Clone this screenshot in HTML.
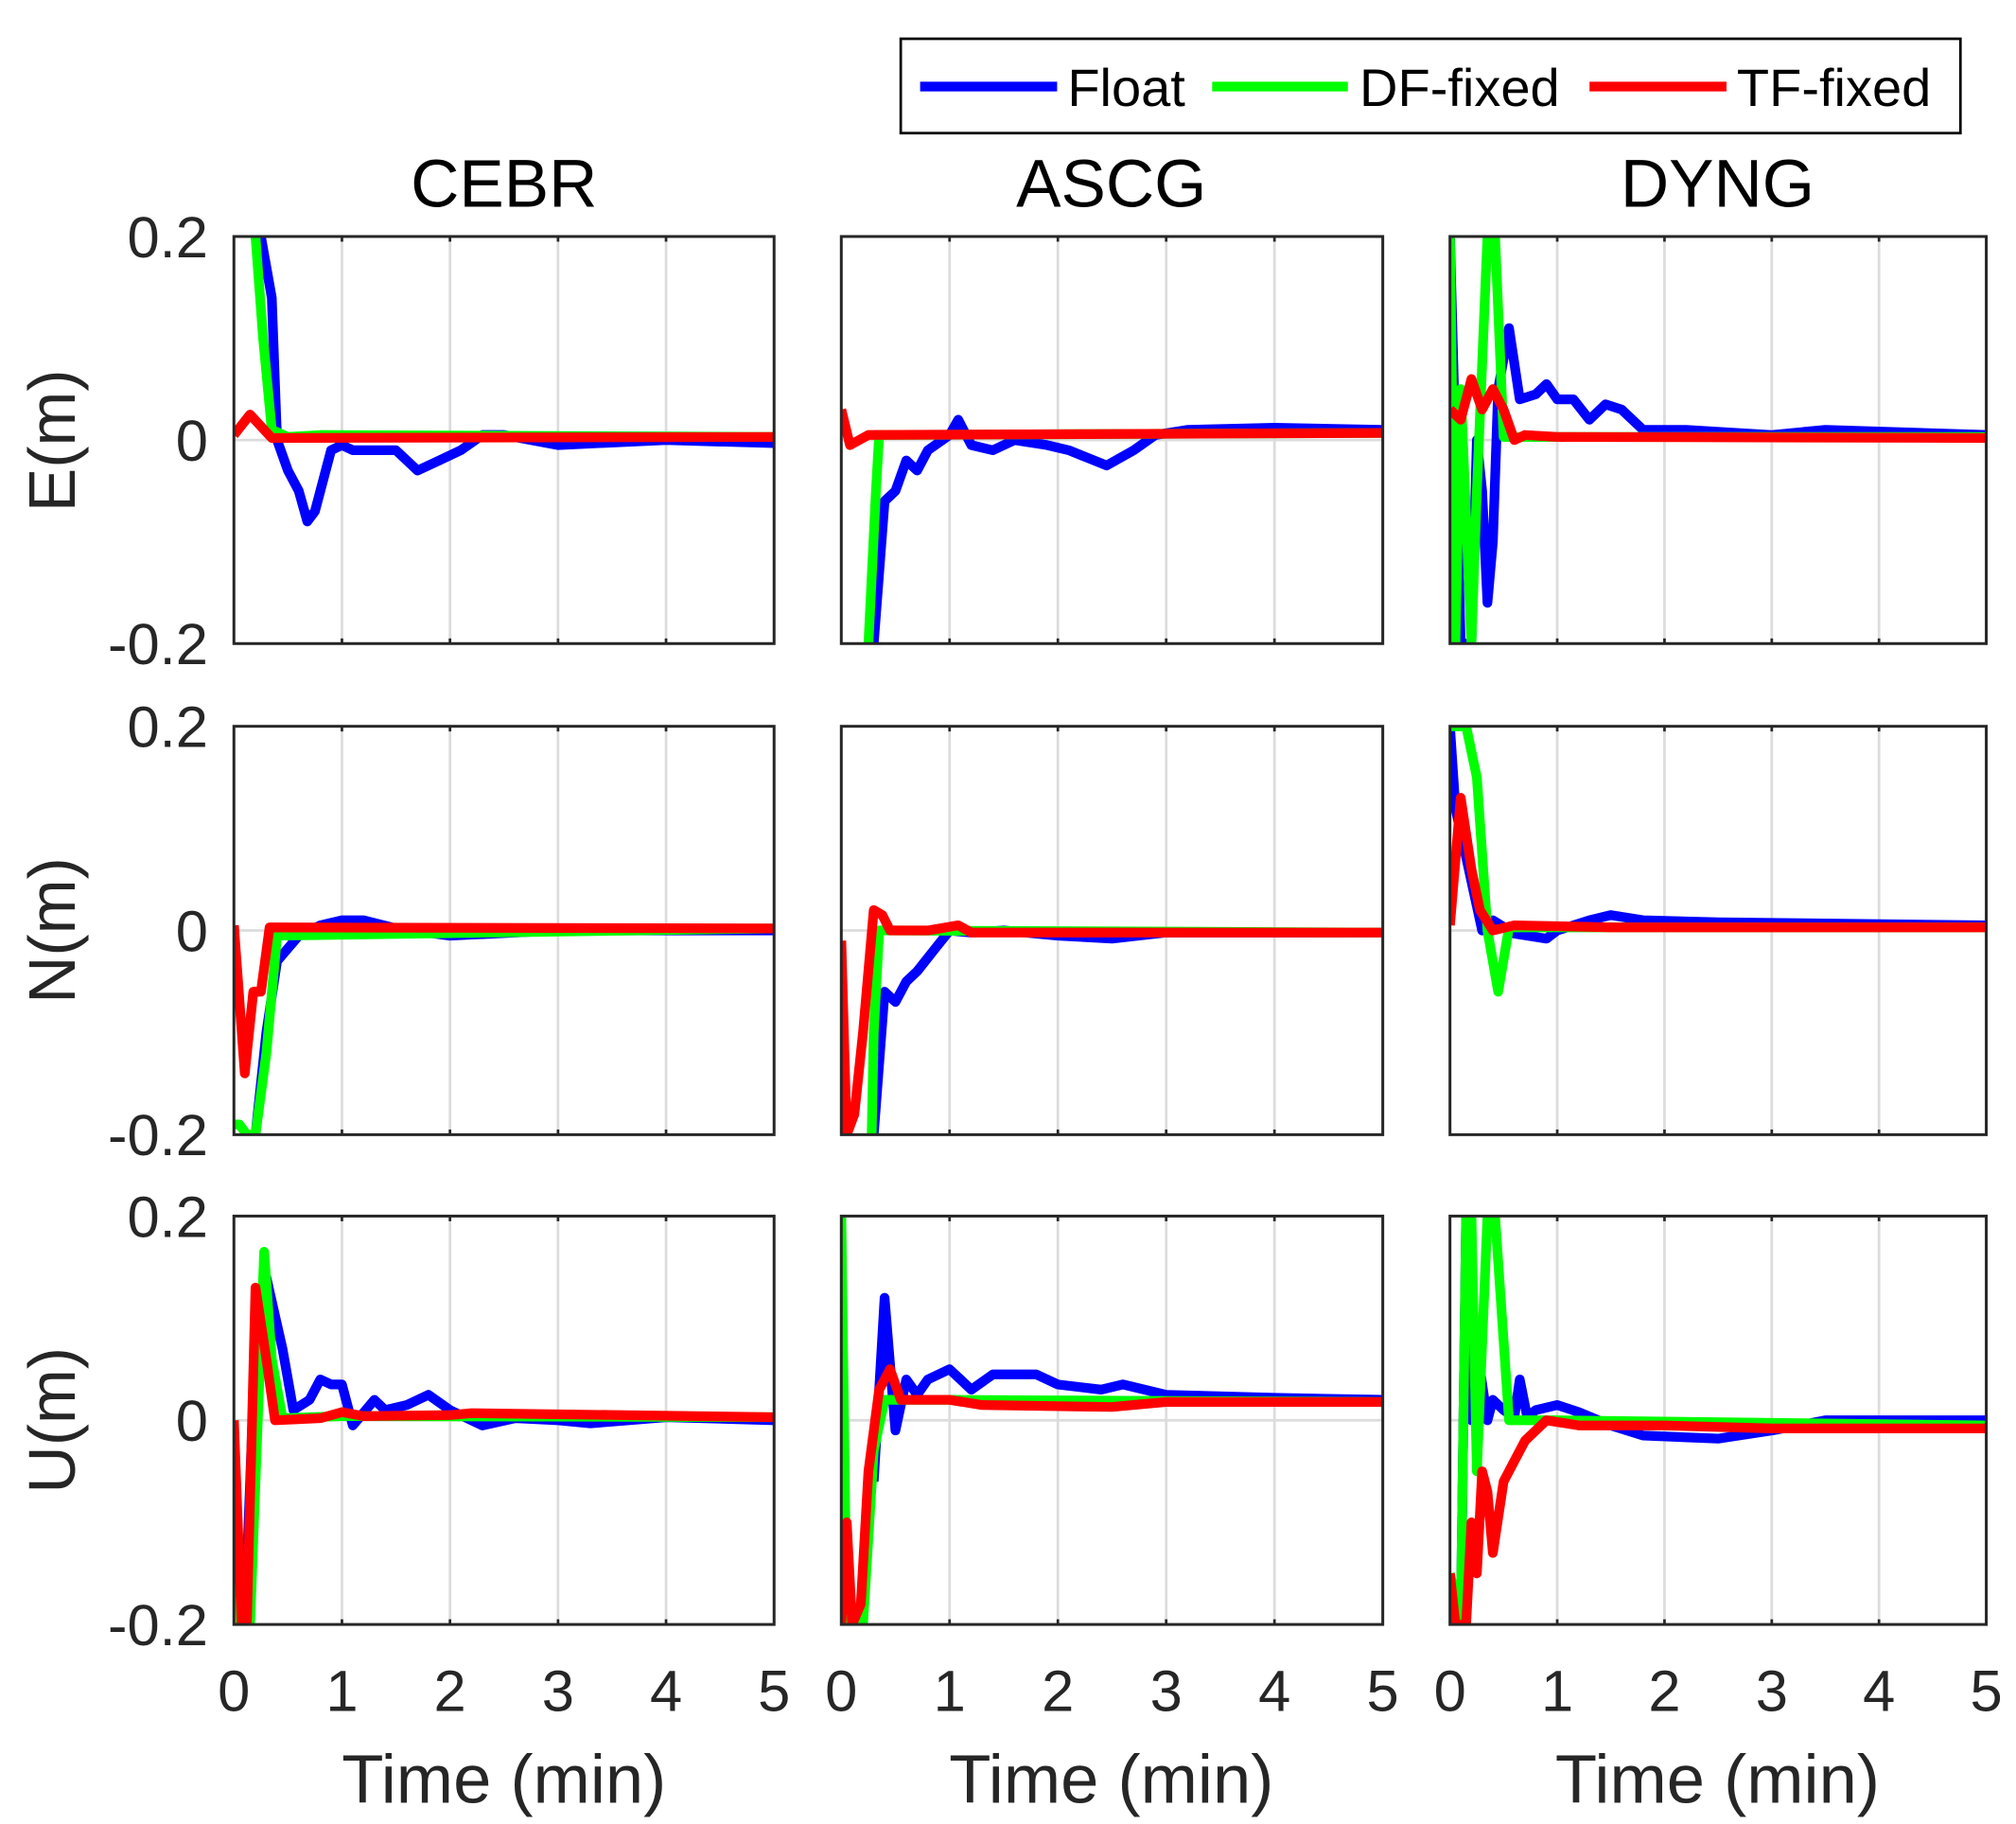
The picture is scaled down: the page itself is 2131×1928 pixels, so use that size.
<!DOCTYPE html>
<html><head><meta charset="utf-8"><style>html,body{margin:0;padding:0;background:#fff}svg{display:block}</style></head>
<body>
<svg id="s" width="2131" height="1928" viewBox="0 0 1560 1411.4" xmlns="http://www.w3.org/2000/svg" font-family="Liberation Sans, Arial, sans-serif">
<rect width="1560" height="1412" fill="#fff"/>
<g id="g"></g>
<rect x="697" y="30" width="820" height="73" fill="#fff" stroke="#000" stroke-width="2"/>
<line x1="712" y1="67" x2="818" y2="67" stroke="#0000ff" stroke-width="7.5"/>
<text x="826" y="82" font-size="41" fill="#000">Float</text>
<line x1="938" y1="67" x2="1043" y2="67" stroke="#00ff00" stroke-width="7.5"/>
<text x="1052" y="82" font-size="41" fill="#000">DF-fixed</text>
<line x1="1230" y1="67" x2="1336" y2="67" stroke="#ff0000" stroke-width="7.5"/>
<text x="1344" y="82" font-size="41" fill="#000">TF-fixed</text>
<text x="390" y="160" font-size="52" text-anchor="middle">CEBR</text>
<text x="860" y="160" font-size="52" text-anchor="middle">ASCG</text>
<text x="1329" y="160" font-size="52" text-anchor="middle">DYNG</text>
<text transform="translate(58,341) rotate(-90)" font-size="51" text-anchor="middle" fill="#262626">E(m)</text>
<text transform="translate(58,720) rotate(-90)" font-size="51" text-anchor="middle" fill="#262626">N(m)</text>
<text transform="translate(58,1099) rotate(-90)" font-size="51" text-anchor="middle" fill="#262626">U(m)</text>
<text x="390" y="1395" font-size="53" text-anchor="middle" fill="#262626">Time (min)</text>
<text x="860" y="1395" font-size="53" text-anchor="middle" fill="#262626">Time (min)</text>
<text x="1329" y="1395" font-size="53" text-anchor="middle" fill="#262626">Time (min)</text>
</svg>
<script>
var cols=[[181,599],[651,1070],[1122,1537]],rows=[[183,498],[562,878],[941,1257]];
var D=[
[[[0.25,0.2],[0.35,0.14],[0.4,0.0],[0.5,-0.03],[0.6,-0.05],[0.68,-0.08],[0.75,-0.07],[0.9,-0.01],[1.0,-0.005],[1.1,-0.01],[1.3,-0.01],[1.5,-0.01],[1.7,-0.03],[1.9,-0.02],[2.1,-0.01],[2.3,0.005],[2.5,0.005],[3,-0.005],[4,0],[5,-0.003]],
 [[0.2,0.2],[0.27,0.1],[0.35,0.01],[0.5,0.003],[0.8,0.005],[5,0.003]],
 [[0,0.005],[0.15,0.025],[0.35,0.002],[5,0.003]]],
[[[0.3,-0.2],[0.4,-0.06],[0.5,-0.05],[0.6,-0.02],[0.7,-0.03],[0.8,-0.01],[1.0,0.005],[1.08,0.02],[1.2,-0.005],[1.4,-0.01],[1.6,0.0],[1.9,-0.005],[2.1,-0.01],[2.45,-0.025],[2.7,-0.01],[2.9,0.005],[3.2,0.01],[4,0.012],[5,0.01]],
 [[0.25,-0.2],[0.32,-0.05],[0.35,0.005],[5,0.007]],
 [[0,0.03],[0.08,-0.005],[0.25,0.005],[5,0.007]]],
[[[0,0.2],[0.1,-0.2],[0.2,-0.2],[0.25,0.0],[0.3,-0.05],[0.35,-0.16],[0.4,-0.1],[0.45,0.05],[0.55,0.11],[0.65,0.04],[0.8,0.045],[0.9,0.055],[1.0,0.04],[1.15,0.04],[1.3,0.02],[1.45,0.035],[1.6,0.03],[1.8,0.01],[2.2,0.01],[3,0.005],[3.5,0.01],[5,0.005]],
 [[0,0.2],[0.05,-0.2],[0.1,0.05],[0.2,-0.2],[0.25,-0.05],[0.35,0.2],[0.42,0.2],[0.5,0.003],[5,0.003]],
 [[0,0.03],[0.1,0.02],[0.2,0.06],[0.3,0.03],[0.4,0.05],[0.5,0.03],[0.6,0.0],[0.7,0.005],[1,0.003],[5,0.002]]],
[[[0.2,-0.2],[0.3,-0.1],[0.4,-0.03],[0.6,-0.005],[0.8,0.005],[1.0,0.01],[1.2,0.01],[1.5,0.002],[2,-0.005],[3,0],[5,0]],
 [[0,-0.19],[0.05,-0.19],[0.12,-0.2],[0.2,-0.2],[0.3,-0.12],[0.4,-0.005],[5,0.002]],
 [[0,0.005],[0.1,-0.14],[0.18,-0.06],[0.25,-0.06],[0.33,0.003],[5,0.002]]],
[[[0.3,-0.2],[0.4,-0.06],[0.5,-0.07],[0.6,-0.05],[0.7,-0.04],[0.85,-0.02],[1.0,0.0],[1.2,-0.002],[1.5,0],[2,-0.005],[2.5,-0.008],[3,-0.002],[5,-0.002]],
 [[0.28,-0.2],[0.3,-0.1],[0.35,0.0],[0.45,0.0],[5,-0.002]],
 [[0,-0.01],[0.05,-0.2],[0.12,-0.18],[0.2,-0.1],[0.3,0.02],[0.38,0.015],[0.45,0.0],[0.8,0.0],[1.08,0.005],[1.2,-0.002],[5,-0.002]]],
[[[0,0.2],[0.05,0.12],[0.3,0.0],[0.4,0.01],[0.6,-0.003],[0.9,-0.008],[1.0,0.0],[1.3,0.01],[1.5,0.015],[1.8,0.01],[2.5,0.008],[5,0.005]],
 [[0,0.2],[0.05,0.2],[0.15,0.2],[0.25,0.15],[0.35,0.0],[0.45,-0.06],[0.55,0.003],[5,0.003]],
 [[0,0.005],[0.1,0.13],[0.2,0.06],[0.28,0.02],[0.4,0.0],[0.6,0.005],[1.5,0.003],[5,0.003]]],
[[[0,-0.12],[0.1,-0.2],[0.2,0.08],[0.3,0.14],[0.45,0.07],[0.55,0.01],[0.7,0.02],[0.8,0.04],[0.9,0.035],[1.0,0.035],[1.1,-0.005],[1.3,0.02],[1.4,0.01],[1.6,0.015],[1.8,0.025],[2.0,0.01],[2.3,-0.005],[2.6,0.002],[3,0.0],[3.3,-0.003],[4,0.003],[5,0]],
 [[0,-0.12],[0.05,-0.2],[0.15,-0.2],[0.28,0.165],[0.35,0.06],[0.45,0.002],[1,0.004],[5,0.003]],
 [[0,0.0],[0.07,-0.2],[0.12,-0.2],[0.2,0.13],[0.3,0.06],[0.38,0.0],[0.8,0.002],[1,0.008],[1.2,0.004],[2,0.005],[2.2,0.007],[5,0.003]]],
[[[0.3,-0.06],[0.4,0.12],[0.5,-0.01],[0.6,0.04],[0.7,0.025],[0.8,0.04],[1.0,0.05],[1.2,0.03],[1.4,0.045],[1.8,0.045],[2.0,0.035],[2.4,0.03],[2.6,0.035],[3,0.025],[4,0.022],[5,0.02]],
 [[0,0.2],[0.05,-0.2],[0.2,-0.2],[0.3,-0.03],[0.4,0.02],[0.5,0.02],[1,0.02],[5,0.018]],
 [[0,-0.2],[0.05,-0.1],[0.1,-0.2],[0.18,-0.18],[0.25,-0.05],[0.35,0.03],[0.45,0.05],[0.55,0.02],[1.0,0.02],[1.3,0.015],[2.5,0.013],[3,0.018],[5,0.018]]],
[[[0.1,-0.2],[0.15,0.2],[0.2,0.0],[0.28,0.05],[0.35,0.0],[0.4,0.02],[0.5,0.01],[0.6,0.003],[0.65,0.04],[0.72,0.003],[0.8,0.01],[1.0,0.015],[1.2,0.008],[1.5,-0.005],[1.8,-0.015],[2.5,-0.018],[3,-0.01],[3.5,0.0],[5,0.0]],
 [[0,-0.15],[0.1,-0.2],[0.15,0.2],[0.2,0.2],[0.25,-0.05],[0.35,0.2],[0.42,0.2],[0.55,0.0],[1,0.0],[5,-0.005]],
 [[0,-0.15],[0.05,-0.2],[0.15,-0.2],[0.2,-0.1],[0.25,-0.15],[0.3,-0.05],[0.35,-0.07],[0.4,-0.13],[0.5,-0.06],[0.6,-0.04],[0.7,-0.02],[0.9,0.0],[1.2,-0.005],[1.5,-0.005],[2,-0.005],[3,-0.008],[5,-0.008]]]
];
var colors=['#0000ff','#00ff00','#ff0000'];
var h='';
for(var r=0;r<3;r++)for(var c=0;c<3;c++){
 var x0=cols[c][0],x1=cols[c][1],y0=rows[r][0],y1=rows[r][1];
 var px=function(t){return x0+t/5*(x1-x0)},py=function(v){return y0+(0.2-v)/0.4*(y1-y0)};
 var id='c'+r+c;
 h+='<clipPath id="'+id+'"><rect x="'+x0+'" y="'+y0+'" width="'+(x1-x0)+'" height="'+(y1-y0)+'"/></clipPath>';
 for(var k=1;k<5;k++){var X=px(k);h+='<line x1="'+X+'" y1="'+y0+'" x2="'+X+'" y2="'+y1+'" stroke="#dcdcdc" stroke-width="2"/>';}
 h+='<line x1="'+x0+'" y1="'+py(0)+'" x2="'+x1+'" y2="'+py(0)+'" stroke="#dcdcdc" stroke-width="2"/>';
 var s=D[r*3+c];
 for(var j=0;j<3;j++){
  var p=s[j].map(function(q){return px(q[0]).toFixed(1)+','+py(q[1]).toFixed(1)}).join(' ');
  h+='<polyline clip-path="url(#'+id+')" points="'+p+'" fill="none" stroke="'+colors[j]+'" stroke-width="7.5" stroke-linejoin="round"/>';
 }
 h+='<rect x="'+x0+'" y="'+y0+'" width="'+(x1-x0)+'" height="'+(y1-y0)+'" fill="none" stroke="#262626" stroke-width="2.2"/>';
 for(var k=1;k<5;k++){var X=px(k);h+='<line x1="'+X+'" y1="'+y1+'" x2="'+X+'" y2="'+(y1-4)+'" stroke="#262626" stroke-width="2"/><line x1="'+X+'" y1="'+y0+'" x2="'+X+'" y2="'+(y0+4)+'" stroke="#262626" stroke-width="2"/>';}
 if(c==0){
  h+='<text x="'+(x0-20)+'" y="'+(y0+16)+'" font-size="45" text-anchor="end" fill="#262626">0.2</text>';
  h+='<text x="'+(x0-20)+'" y="'+(py(0)+16)+'" font-size="45" text-anchor="end" fill="#262626">0</text>';
  h+='<text x="'+(x0-20)+'" y="'+(y1+16)+'" font-size="45" text-anchor="end" fill="#262626">-0.2</text>';
 }
 if(r==2){for(var k=0;k<=5;k++)h+='<text x="'+px(k)+'" y="'+(y1+67)+'" font-size="45" text-anchor="middle" fill="#262626">'+k+'</text>';}
}
document.getElementById('g').innerHTML=h;
</script>
</body></html>
